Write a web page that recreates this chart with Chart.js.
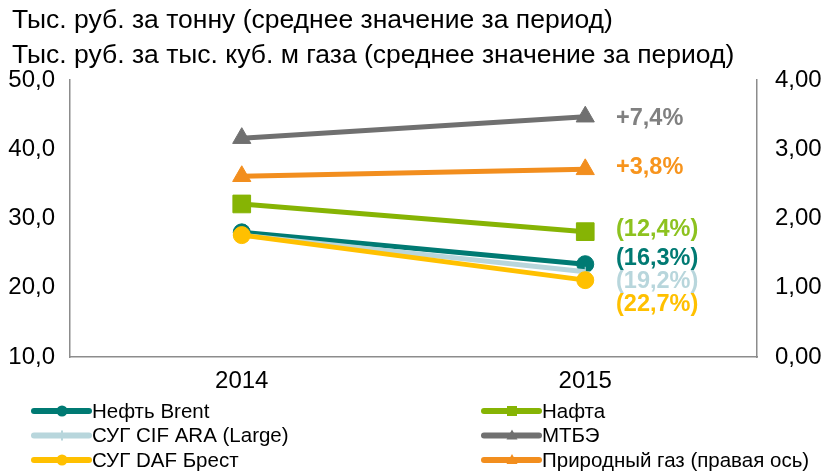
<!DOCTYPE html>
<html>
<head>
<meta charset="utf-8">
<script src="https://cdn.jsdelivr.net/npm/chart.js@4"></script>
<style>
  html, body { margin: 0; padding: 0; background: #fff; }
  #wrap { width: 828px; height: 474px; }
</style>
</head>
<body>
<div id="wrap"><canvas id="priceChart" width="828" height="474"></canvas></div>
<script>
const years = ['2014', '2015'];
const brent = [28.0, 23.4];
const nafta = [32.1, 28.1];
const cifAra = [27.6, 22.3];
const mtbe = [41.6, 44.7];
const dafBrest = [27.6, 21.1];
const naturalGas = [2.61, 2.71];

const changeLabels = ['(16,3%)', '(12,4%)', '(19,2%)', '+7,4%', '(22,7%)', '+3,8%'];
const titleLines = [
  'Тыс. руб. за тонну (среднее значение за период)',
  'Тыс. руб. за тыс. куб. м газа (среднее значение за период)'
];
const leftTicks = [10, 20, 30, 40, 50];
const rightTicks = [0, 1, 2, 3, 4];

const FONT = '"Liberation Sans", Arial, sans-serif';

// label nudge (px) relative to the 2015 point, to keep the labels apart
const labelDy = [-6, -2, 10, 2, 24, -2];
const labelColors = ['#007a73', '#8dc21f', '#b8d6dc', '#808080', '#ffc000', '#f7941d'];

const overlay = {
  id: 'overlay',
  afterDraw(chart) {
    const ctx = chart.ctx;
    ctx.save();
    // title
    ctx.fillStyle = '#000';
    ctx.font = '26.5px ' + FONT;
    ctx.textBaseline = 'middle';
    ctx.textAlign = 'left';
    ctx.fillText(titleLines[0], 12, 21);
    ctx.fillText(titleLines[1], 12, 56);

    // change labels next to 2015 points
    ctx.font = 'bold 23.5px ' + FONT;
    chart.data.datasets.forEach((ds, i) => {
      const pt = chart.getDatasetMeta(i).data[1];
      ctx.fillStyle = labelColors[i];
      ctx.fillText(changeLabels[i], 616, pt.y + labelDy[i]);
    });

    // legend, two columns
    ctx.font = '20.5px ' + FONT;
    chart.data.datasets.forEach((ds, i) => {
      const col = i % 2, row = Math.floor(i / 2);
      const x0 = col === 0 ? 34 : 484;
      const y = 411 + row * 24.5;
      ctx.strokeStyle = ds.borderColor;
      ctx.lineWidth = 6;
      ctx.lineCap = 'round';
      ctx.beginPath();
      ctx.moveTo(x0, y);
      ctx.lineTo(x0 + 55, y);
      ctx.stroke();
      ctx.fillStyle = ds.borderColor;
      const cx = x0 + 28;
      ctx.beginPath();
      if (ds.pointStyle === 'circle') {
        ctx.arc(cx, y, 5.5, 0, Math.PI * 2);
      } else if (ds.pointStyle === 'rect') {
        ctx.rect(cx - 5, y - 5, 10, 10);
      } else if (ds.pointStyle === 'triangle') {
        ctx.moveTo(cx, y - 6); ctx.lineTo(cx + 5.5, y + 4); ctx.lineTo(cx - 5.5, y + 4);
      } else {
        ctx.rect(cx - 1, y - 5, 2, 10);
      }
      ctx.fill();
      ctx.fillStyle = '#000';
      ctx.fillText(ds.label, x0 + 58, y + 1);
    });
    ctx.restore();
  }
};

new Chart(document.getElementById('priceChart'), {
  type: 'line',
  data: {
    labels: years,
    datasets: [
      { label: 'Нефть Brent', data: brent, borderColor: '#007a73', backgroundColor: '#007a73',
        pointStyle: 'circle', pointRadius: 8.5, yAxisID: 'y', order: 2 },
      { label: 'Нафта', data: nafta, borderColor: '#86b404', backgroundColor: '#86b404',
        pointStyle: 'rect', pointRadius: 12.5, yAxisID: 'y', order: 3 },
      { label: 'СУГ CIF ARA (Large)', data: cifAra, borderColor: '#b8d6dc', backgroundColor: '#b8d6dc',
        pointStyle: 'cross', pointRadius: 5, yAxisID: 'y', order: 1 },
      { label: 'МТБЭ', data: mtbe, borderColor: '#707070', backgroundColor: '#707070',
        pointStyle: 'triangle', pointRadius: 10.5, yAxisID: 'y', order: 4 },
      { label: 'СУГ DAF Брест', data: dafBrest, borderColor: '#ffc000', backgroundColor: '#ffc000',
        pointStyle: 'circle', pointRadius: 8.5, yAxisID: 'y', order: 0 },
      { label: 'Природный газ (правая ось)', data: naturalGas, borderColor: '#f28e1e', backgroundColor: '#f28e1e',
        pointStyle: 'triangle', pointRadius: 10.5, yAxisID: 'y1', order: 5 }
    ].map(d => Object.assign({ borderWidth: 5, tension: 0, pointBorderWidth: 1 }, d))
  },
  options: {
    responsive: false,
    animation: false,
    layout: { padding: { top: 80, bottom: 77, left: 0, right: 0 } },
    plugins: { legend: { display: false }, tooltip: { enabled: false } },
    scales: {
      x: {
        offset: true,
        grid: { display: false, drawTicks: false },
        border: { display: true, color: '#8c8c8c', width: 1.5 },
        ticks: { color: '#000', font: { family: FONT, size: 24 }, padding: 10 },
        afterFit(s) { s.height = 40; }
      },
      y: {
        position: 'left',
        min: 10, max: 50,
        afterBuildTicks(s) { s.ticks = leftTicks.map(v => ({ value: v })); },
        grid: { display: false, drawTicks: false },
        border: { display: true, color: '#8c8c8c', width: 1.5 },
        ticks: { color: '#000', font: { family: FONT, size: 24 }, padding: 15,
                 callback: v => v.toFixed(1).replace('.', ',') },
        afterFit(s) { s.width = 70; }
      },
      y1: {
        position: 'right',
        min: 0, max: 4,
        afterBuildTicks(s) { s.ticks = rightTicks.map(v => ({ value: v })); },
        grid: { display: false, drawTicks: false },
        border: { display: true, color: '#8c8c8c', width: 1.5 },
        ticks: { color: '#000', font: { family: FONT, size: 24 }, padding: 18,
                 callback: v => v.toFixed(2).replace('.', ',') },
        afterFit(s) { s.width = 71; }
      }
    }
  },
  plugins: [overlay]
});
</script>
</body>
</html>
